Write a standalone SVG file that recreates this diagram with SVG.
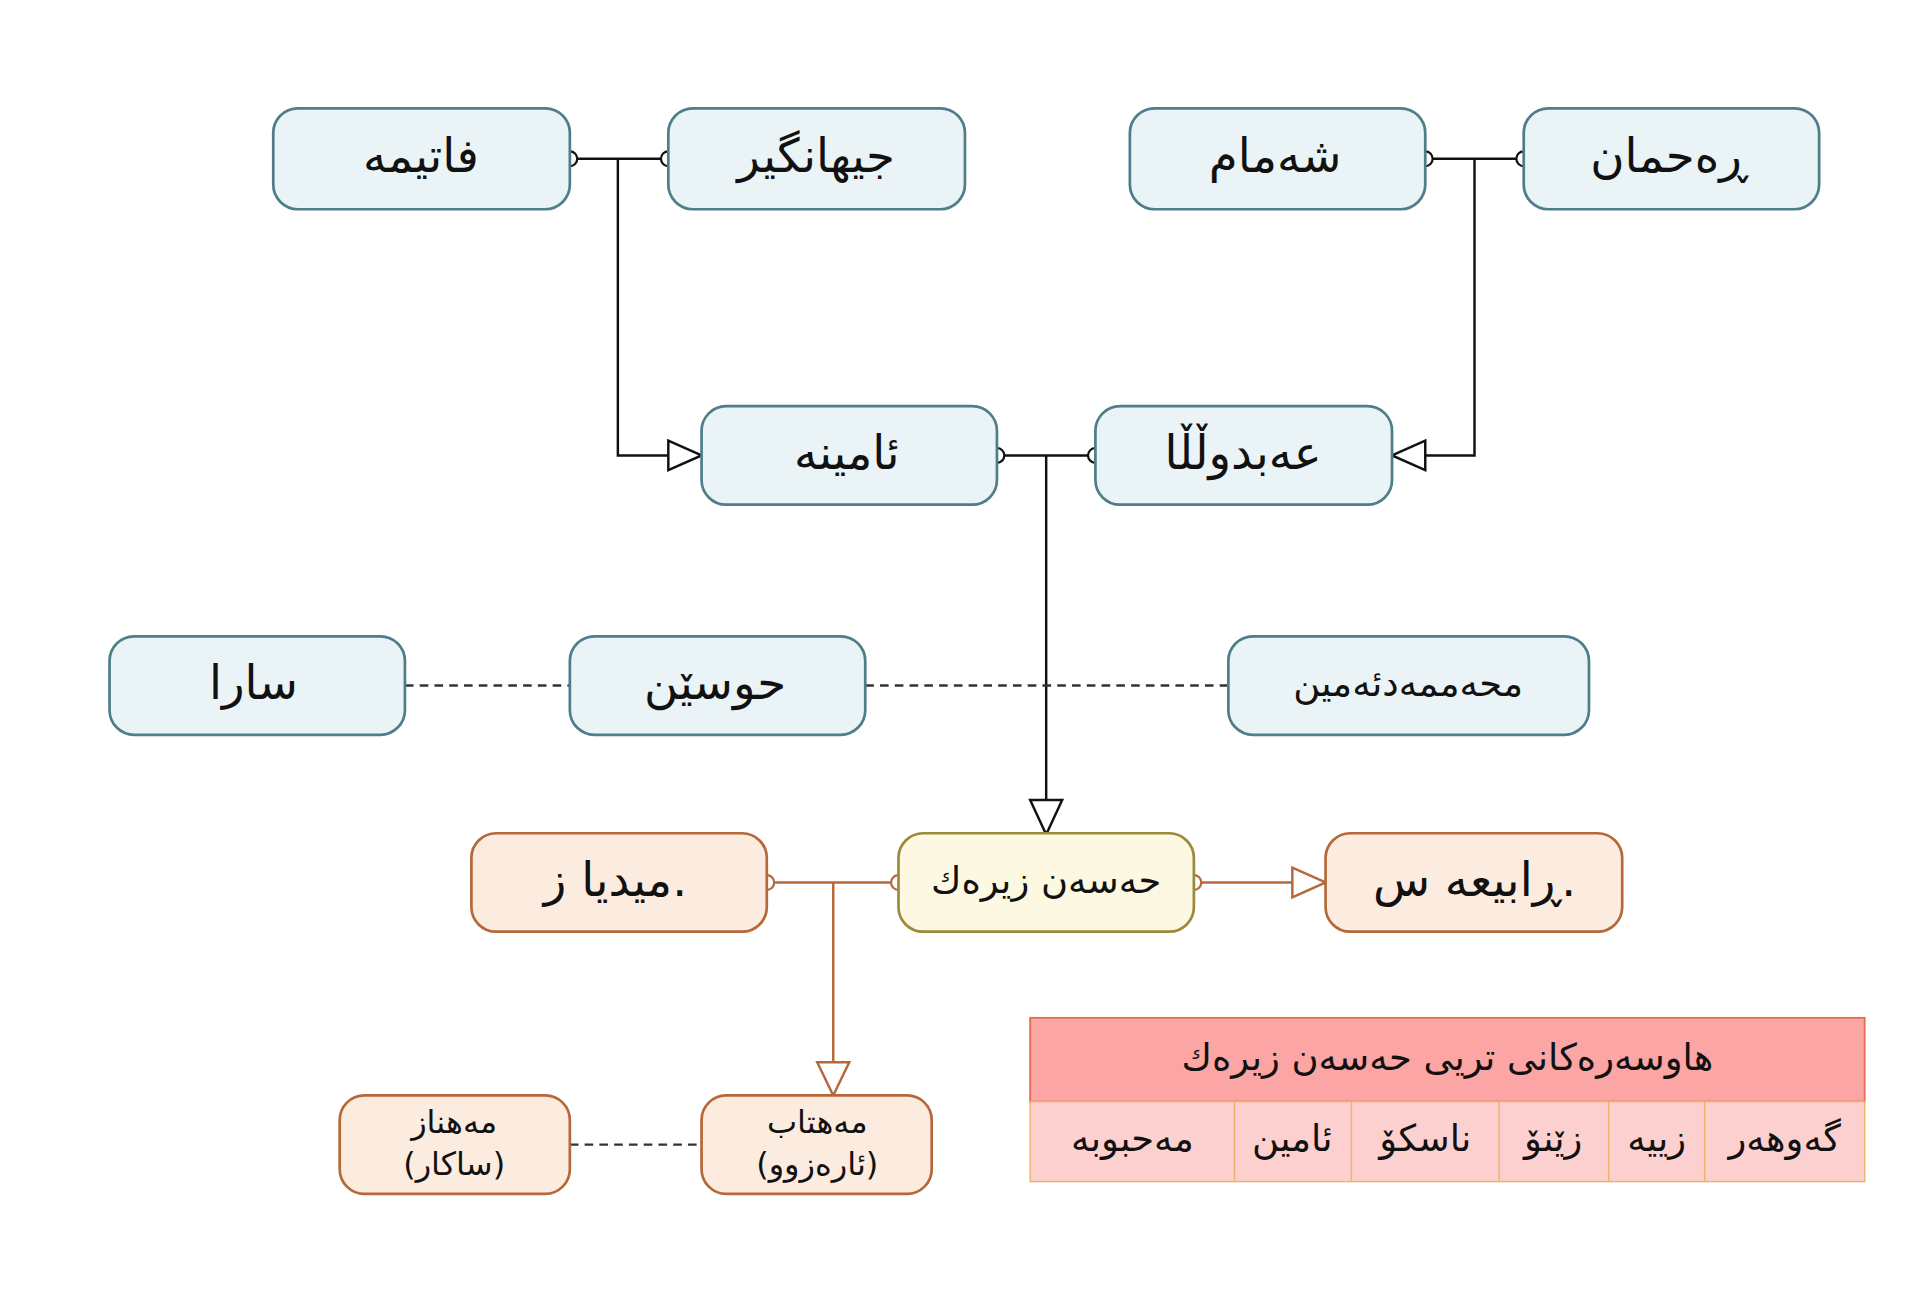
<svg xmlns="http://www.w3.org/2000/svg" width="1920" height="1298" viewBox="0 0 1920 1298">
<style>
text{font-family:"DejaVu Sans",sans-serif;fill:#111;text-anchor:middle;dominant-baseline:central}
.b rect{fill:#eaf3f6;stroke:#4f7d8a;stroke-width:2.2}
.o rect{fill:#fcebdf;stroke:#b5683a;stroke-width:2.2}
.y rect{fill:#fdf8e2;stroke:#9b8a3a;stroke-width:2.2}
.L{font-size:38px}.S{font-size:26px}.M{font-size:30px}
.k{stroke:#111;fill:none;stroke-width:2}
.ko{stroke:#b5683a;fill:none;stroke-width:2}
.d{stroke:#333;fill:none;stroke-width:2;stroke-dasharray:7,5}
.c{fill:#fff;stroke:#111;stroke-width:1.8}
.co{fill:#fff;stroke:#b5683a;stroke-width:1.8}
.ah{fill:#fff;stroke:#111;stroke-width:2}
.aho{fill:#fff;stroke:#b5683a;stroke-width:2}
</style>
<rect width="1920" height="1298" fill="#fff"/>
<g transform="scale(1.2308)">
<g id="connectors">
<path class="k" d="M463 129H543M502 129V370H545"/>
<path class="k" d="M1158 129H1238M1198 129V370H1158"/>
<path class="k" d="M810 370H890M850 370V652" stroke-width="3.5"/>
<path class="d" d="M329 557H463M703 557H998"/>
<path class="ko" d="M623 717H730M677 717V865"/>
<path class="ko" d="M970 717H1050"/>
<path class="d" d="M463 930H570" stroke="#555"/>
<polygon class="ah" points="570,370 543,358 543,382"/>
<polygon class="ah" points="1131,370 1158,358 1158,382"/>
<polygon class="ah" points="850,678 837,650 863,650" stroke-width="2.2"/>
<polygon class="aho" points="1077,717 1050,705 1050,729"/>
<polygon class="aho" points="677,890 664,863 690,863"/>
<circle class="c" cx="463" cy="129" r="6"/><circle class="c" cx="543" cy="129" r="6"/>
<circle class="c" cx="1158" cy="129" r="6"/><circle class="c" cx="1238" cy="129" r="6"/>
<circle class="c" cx="810" cy="370" r="6"/><circle class="c" cx="890" cy="370" r="6"/>
<circle class="co" cx="623" cy="717" r="6"/><circle class="co" cx="730" cy="717" r="6"/>
<circle class="co" cx="970" cy="717" r="6"/>
</g>
<g id="n1" class="b"><rect x="222" y="88" width="241" height="82" rx="20"/><text class="L" x="342" y="127">فاتیمە</text></g>
<g id="n2" class="b"><rect x="543" y="88" width="241" height="82" rx="20"/><text class="L" x="663" y="127">جیهانگیر</text></g>
<g id="n3" class="b"><rect x="918" y="88" width="240" height="82" rx="20"/><text class="L" x="1036" y="127">شەمام</text></g>
<g id="n4" class="b"><rect x="1238" y="88" width="240" height="82" rx="20"/><text class="L" x="1356" y="127">ڕەحمان</text></g>
<g id="n5" class="b"><rect x="570" y="330" width="240" height="80" rx="20"/><text class="L" x="688" y="368">ئامینە</text></g>
<g id="n6" class="b"><rect x="890" y="330" width="241" height="80" rx="20"/><text class="L" x="1010" y="368">عەبدوڵڵا</text></g>
<g id="n7" class="b"><rect x="89" y="517" width="240" height="80" rx="20"/><text class="L" x="206" y="555">سارا</text></g>
<g id="n8" class="b"><rect x="463" y="517" width="240" height="80" rx="20"/><text class="L" x="581" y="555">حوسێن</text></g>
<g id="n9" class="b"><rect x="998" y="517" width="293" height="80" rx="20"/><text class="M" x="1144" y="555">محەممەدئەمین</text></g>
<g id="n10" class="o"><rect x="383" y="677" width="240" height="80" rx="20"/><text class="L" x="500" y="715">میدیا ز.</text></g>
<g id="n11" class="y"><rect x="730" y="677" width="240" height="80" rx="20"/><text class="M" x="850" y="715">حەسەن زیرەك</text></g>
<g id="n12" class="o"><rect x="1077" y="677" width="241" height="80" rx="20"/><text class="L" x="1198" y="715">ڕابیعە س.</text></g>
<g id="n13" class="o"><rect x="276" y="890" width="187" height="80" rx="20"/><text class="S" x="369" y="912">مەهناز</text><text class="S" x="369" y="946">(ساکار)</text></g>
<g id="n14" class="o"><rect x="570" y="890" width="187" height="80" rx="20"/><text class="S" x="664" y="912">مەهتاب</text><text class="S" x="664" y="946">(ئارەزوو)</text></g>
<g id="table">
<rect x="837" y="827" width="678" height="68" fill="#fba5a5" stroke="#e07050" stroke-width="1.5"/>
<rect x="837" y="895" width="678" height="65" fill="#fdd0d0" stroke="#f0b070" stroke-width="1.2"/>
<path d="M1003 895V960M1098 895V960M1218 895V960M1307 895V960M1385 895V960" stroke="#f0b070" stroke-width="1.2"/>
<text class="M" x="1176" y="859">هاوسەرەکانی تریی حەسەن زیرەك</text>
<text class="M" x="1450" y="925">گەوهەر</text>
<text class="M" x="1346" y="925">زییە</text>
<text class="M" x="1262" y="925">زێنۆ</text>
<text class="M" x="1158" y="925">ناسکۆ</text>
<text class="M" x="1050" y="925">ئامین</text>
<text class="M" x="920" y="925">مەحبوبە</text>
</g>
</g>
</svg>
